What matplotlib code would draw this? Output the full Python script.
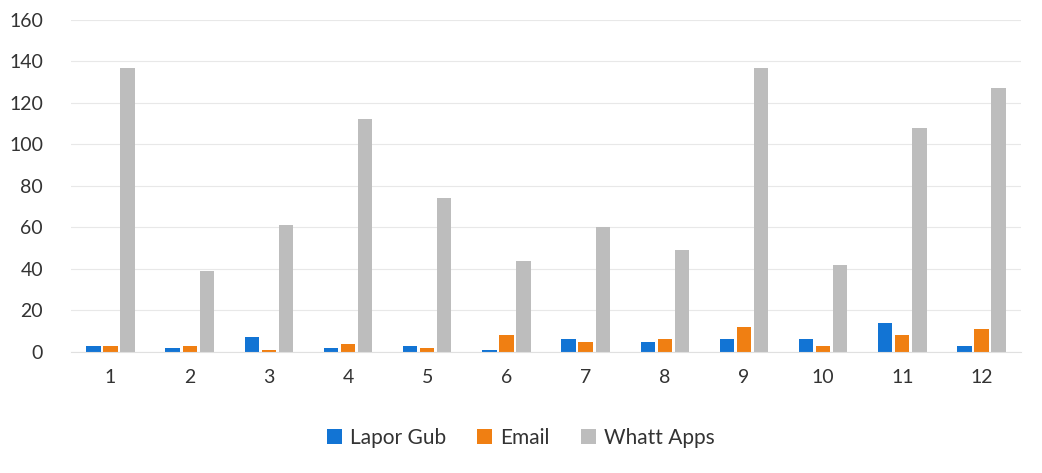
import matplotlib.pyplot as plt
import numpy as np

plt.rcParams['font.family'] = ['Lato', 'DejaVu Sans']

months = ["1", "2", "3", "4", "5", "6", "7", "8", "9", "10", "11", "12"]
lapor_gub = [3, 2, 7, 2, 3, 1, 6, 5, 6, 6, 14, 3]
email = [3, 3, 1, 4, 2, 8, 5, 6, 12, 3, 8, 11]
whatt_apps = [137, 39, 61, 112, 74, 44, 60, 49, 137, 42, 108, 127]

fig = plt.figure(figsize=(10.42, 4.73), dpi=100)
ax = fig.add_axes([0.068, 0.256, 0.912, 0.702])

x = np.arange(len(months))
w = 0.18
gap = 0.215
ax.bar(x - gap, lapor_gub, w, color="#1274D4", label="Lapor Gub")
ax.bar(x, email, w, color="#F07F12", label="Email")
ax.bar(x + gap, whatt_apps, w, color="#BDBDBD", label="Whatt Apps")

ax.set_ylim(0, 160)
ax.set_yticks(range(0, 161, 20))
ax.set_xlim(-0.5, len(months) - 0.5)
ax.set_xticks(x)
ax.set_xticklabels(months)
ax.grid(axis="y", color="#E8E8E8", linewidth=0.8)
ax.set_axisbelow(True)
for s in ["top", "right", "left"]:
    ax.spines[s].set_visible(False)
ax.spines["bottom"].set_color("#E0E0E0")
ax.tick_params(length=0, labelsize=14, colors="#333333")
ax.tick_params(axis="x", pad=12)
ax.tick_params(axis="y", pad=20)

fig.legend(loc="center", bbox_to_anchor=(0.5, 0.075), ncol=3, frameon=False,
           fontsize=15, handlelength=0.7, handleheight=0.7,
           columnspacing=1.5, handletextpad=0.4)
for t in fig.legends[0].get_texts():
    t.set_color("#333333")

plt.savefig("out.png")
